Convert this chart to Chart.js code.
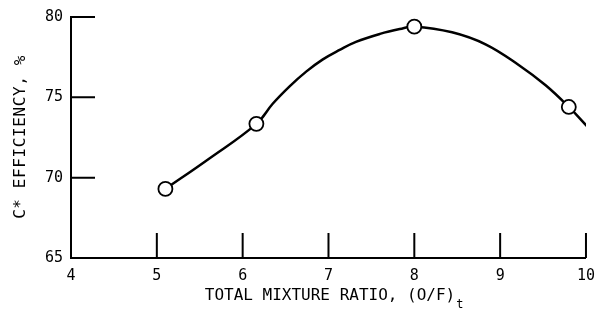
<!DOCTYPE html>
<html>
<head>
<meta charset="utf-8">
<script src="https://cdn.jsdelivr.net/npm/chart.js@4"></script>
<style>
  html, body { margin: 0; padding: 0; background: #fff; }
  #wrap { width: 604px; height: 312px; }
</style>
</head>
<body>
<div id="wrap"><canvas id="myChart" width="604" height="312"></canvas></div>
<script>
// measured points (O/F ratio vs C* efficiency)
const ratioPts = [5.1, 6.16, 8.0, 9.8];
const effPts = [69.3, 73.35, 79.4, 74.4];

// faired curve
const curveX = [5.1, 5.6, 6.16, 6.35, 6.55, 6.74, 6.93, 7.13, 7.32, 7.6, 7.83, 8.0, 8.44, 8.83, 9.22, 9.53, 9.8, 10.03];
const curveY = [69.3, 71.15, 73.35, 74.6, 75.7, 76.6, 77.35, 77.95, 78.45, 78.95, 79.25, 79.4, 79.05, 78.3, 77.0, 75.75, 74.4, 73.1];

const xTicks = [4, 5, 6, 7, 8, 9, 10];
const yTicks = [65, 70, 75, 80];

const xTitle = 'TOTAL MIXTURE RATIO, (O/F)';
const xTitleSub = 't';
const yTitle = 'C* EFFICIENCY, %';

const FONT = "'DejaVu Sans Mono', monospace";

// inward tick marks + axis titles
const figureBits = {
    id: 'figureBits',
    afterDraw(chart) {
        const ctx = chart.ctx;
        const xs = chart.scales.x, ys = chart.scales.y;
        const area = chart.chartArea;
        ctx.save();
        ctx.strokeStyle = '#000';
        ctx.lineWidth = 2;
        ctx.beginPath();
        xTicks.forEach(v => {
            if (v === 4) return;
            const px = xs.getPixelForValue(v);
            ctx.moveTo(px, area.bottom);
            ctx.lineTo(px, area.bottom - 25);
        });
        yTicks.forEach(v => {
            if (v === 65) return;
            const py = ys.getPixelForValue(v);
            ctx.moveTo(area.left, py);
            ctx.lineTo(area.left + 24, py);
        });
        ctx.stroke();

        ctx.fillStyle = '#000';
        ctx.textBaseline = 'alphabetic';
        ctx.textAlign = 'left';
        ctx.font = '16px ' + FONT;
        ctx.letterSpacing = '0px';
        const w = ctx.measureText(xTitle).width;
        const x0 = 330 - w / 2;
        ctx.fillText(xTitle, x0, 300);
        ctx.font = '12px ' + FONT;
        ctx.fillText(xTitleSub, x0 + w + 1, 308);

        ctx.translate(21, 137);
        ctx.rotate(-Math.PI / 2);
        ctx.font = '16px ' + FONT;
        ctx.letterSpacing = '0.6px';
        ctx.textAlign = 'center';
        ctx.textBaseline = 'middle';
        ctx.fillText(yTitle, 0, 0);
        ctx.restore();
    }
};

const ctx = document.getElementById('myChart').getContext('2d');
new Chart(ctx, {
    type: 'scatter',
    data: {
        datasets: [{
            label: 'points',
            data: ratioPts.map((x, i) => ({ x: x, y: effPts[i] })),
            showLine: false,
            pointRadius: 7,
            pointBackgroundColor: '#fff',
            pointBorderColor: '#000',
            pointBorderWidth: 1.8,
            order: 0
        }, {
            label: 'curve',
            data: curveX.map((x, i) => ({ x: x, y: curveY[i] })),
            showLine: true,
            borderColor: '#000',
            borderWidth: 2.5,
            pointRadius: 0,
            tension: 0.4,
            fill: false,
            order: 1
        }]
    },
    options: {
        responsive: false,
        animation: false,
        events: [],
        layout: { padding: { top: 14, right: 17, left: 0, bottom: 0 } },
        plugins: {
            legend: { display: false },
            tooltip: { enabled: false }
        },
        scales: {
            x: {
                type: 'linear',
                min: 4, max: 10,
                afterBuildTicks: s => { s.ticks = xTicks.map(v => ({ value: v })); },
                afterFit: s => { s.height = 54; },
                grid: { display: false, drawTicks: false },
                border: { display: true, color: '#000', width: 2 },
                ticks: {
                    color: '#000',
                    padding: 9,
                    maxRotation: 0,
                    font: { family: FONT, size: 15 }
                }
            },
            y: {
                type: 'linear',
                min: 65, max: 80,
                afterBuildTicks: s => { s.ticks = yTicks.map(v => ({ value: v })); },
                afterFit: s => { s.width = 71; },
                grid: { display: false, drawTicks: false },
                border: { display: true, color: '#000', width: 2 },
                ticks: {
                    color: '#000',
                    padding: 8,
                    font: { family: FONT, size: 15 }
                }
            }
        }
    },
    plugins: [figureBits]
});
</script>
</body>
</html>
